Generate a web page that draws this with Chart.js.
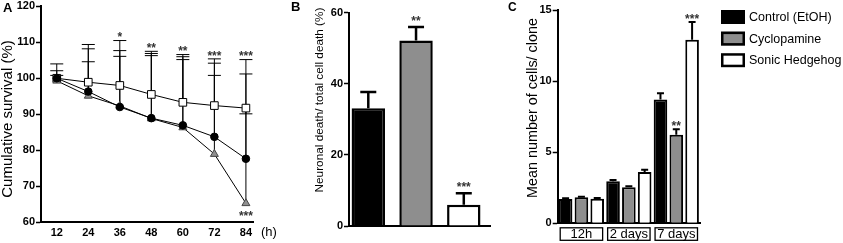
<!DOCTYPE html>
<html>
<head>
<meta charset="utf-8">
<script src="https://cdn.jsdelivr.net/npm/chart.js@4.4.1/dist/chart.umd.min.js"></script>
<style>
  html, body { margin: 0; padding: 0; background: #fff; }
  #wrap { position: relative; width: 843px; height: 243px; overflow: hidden; }
  canvas { position: absolute; top: 0; }
</style>
</head>
<body>
<div id="wrap">
  <canvas id="panelA" width="290" height="243" style="left:0"></canvas>
  <canvas id="panelB" width="205" height="243" style="left:290px"></canvas>
  <canvas id="panelC" width="348" height="243" style="left:495px"></canvas>
</div>
<script>
// ---- panel A: cumulative survival ----
const hours = [12, 24, 36, 48, 60, 72, 84];
const controlSurvival = [100, 96.3, 92, 88.9, 86.9, 83.7, 77.6];
const cyclopamineSurvival = [99.3, 95.1, 92.3, 88.8, 86.3, 78.9, 65.2];
const shhSurvival = [100, 98.9, 98, 95.5, 93.3, 92.4, 91.7];
// upper ends of the error bars
const controlSurvivalErr = [104, 108.2, 107.7, 106.9, 106, 104.2, 101.2];
const cyclopamineSurvivalErr = [102.1, 109.4, 110.5, 107.5, 106.6, 105.4, 105.2];
const shhSurvivalErr = [100.8, 104.6, 106.1, 106.3, 105.2, 100.8, 90.1];
const survivalSigAbove = ['', '', '*', '**', '**', '***', '***'];
const survivalSigBelow = ['', '', '', '', '', '', '***'];

// ---- panel B: neuronal death ----
const treatments = ['Control (EtOH)', 'Cyclopamine', 'Sonic Hedgehog'];
const neuronalDeath = [33.1, 52.2, 6];
const neuronalDeathErr = [37.7, 56, 9.2];
const neuronalDeathSig = ['', '**', '***'];

// ---- panel C: cells per clone ----
const timepoints = ['12h', '2 days', '7 days'];
const controlCells = [1.71, 2.95, 8.7];
const cyclopamineCells = [1.83, 2.53, 6.22];
const shhCells = [1.73, 3.61, 12.9];
const controlCellsErr = [1.76, 3.05, 9.15];
const cyclopamineCellsErr = [1.87, 2.6, 6.62];
const shhCellsErr = [1.78, 3.77, 14.15];
const controlCellsSig = ['', '', ''];
const cyclopamineCellsSig = ['', '', '**'];
const shhCellsSig = ['', '', '***'];

const FILLS = ['#000000', '#8e8e8e', '#ffffff'];
const FONT = '"Liberation Sans", Arial, Helvetica, sans-serif';

Chart.defaults.font.family = FONT;
Chart.defaults.color = '#000';

// panel letter + rotated y title, placed like in the figure
const panelText = (letter, lx, ly, lsize, title, tx, ty, tsize) => ({
  id: 'text' + letter,
  afterDraw(chart) {
    const c = chart.ctx;
    c.save();
    c.fillStyle = '#000';
    c.font = `bold ${lsize}px ${FONT}`;
    c.textBaseline = 'alphabetic';
    c.fillText(letter, lx, ly);
    c.translate(tx, ty);
    c.rotate(-Math.PI / 2);
    c.font = `${tsize}px ${FONT}`;
    c.textAlign = 'center';
    c.textBaseline = 'middle';
    c.fillText(title, 0, 0);
    c.restore();
  }
});

function drawStars(c, text, x, centerY, size) {
  if (!text) return;
  c.save();
  c.font = `bold ${size}px ${FONT}`;
  c.fillStyle = '#333';
  c.textAlign = 'center';
  c.textBaseline = 'alphabetic';
  c.fillText(text, x, centerY + size * 0.6);
  c.restore();
}

const errorBars = {
  id: 'errorBars',
  draw(chart, opts) {
    const c = chart.ctx;
    const y = chart.scales.y;
    c.save();
    c.strokeStyle = '#000';
    c.lineWidth = opts.lineWidth;
    chart.data.datasets.forEach((ds, i) => {
      if (!ds.errTop) return;
      chart.getDatasetMeta(i).data.forEach((el, j) => {
        const top = y.getPixelForValue(ds.errTop[j]);
        const half = opts.capWidth / 2;
        c.beginPath();
        c.moveTo(el.x, el.y);
        c.lineTo(el.x, top);
        c.moveTo(el.x - half, top);
        c.lineTo(el.x + half, top);
        c.stroke();
      });
    });
    c.restore();
  },
  beforeDatasetsDraw(chart, args, opts) { if (opts.under) this.draw(chart, opts); },
  afterDatasetsDraw(chart, args, opts) { if (!opts.under) this.draw(chart, opts); }
};

// per-bar significance marks above the error bars
const barStars = {
  id: 'barStars',
  afterDatasetsDraw(chart, args, opts) {
    const y = chart.scales.y;
    chart.data.datasets.forEach((ds, i) => {
      if (!ds.sig) return;
      chart.getDatasetMeta(i).data.forEach((el, j) => {
        drawStars(chart.ctx, ds.sig[j], el.x, y.getPixelForValue(ds.errTop[j]) - opts.gap, opts.size);
      });
    });
  }
};

const yAxis = (min, max, step, width, top) => ({
  min, max,
  afterFit: s => { s.width = width; s.paddingTop = top; s.paddingBottom = 0; },
  ticks: { stepSize: step, color: '#000', padding: 1, font: { size: 11, weight: 'bold' } },
  grid: { drawOnChartArea: false, drawTicks: true, tickLength: 5, tickWidth: 1.5, tickColor: '#000' },
  border: { color: '#000', width: 2 }
});

// ================= A =================
const survivalStars = {
  id: 'survivalStars',
  afterDatasetsDraw(chart) {
    const x = chart.scales.x, y = chart.scales.y;
    const sets = chart.data.datasets;
    hours.forEach((h, j) => {
      const cap = Math.max(...sets.map(ds => ds.errTop[j]));
      const low = Math.min(...sets.map(ds => ds.data[j].y));
      drawStars(chart.ctx, survivalSigAbove[j], x.getPixelForValue(h), y.getPixelForValue(cap) - 6.5, 12);
      drawStars(chart.ctx, survivalSigBelow[j], x.getPixelForValue(h), y.getPixelForValue(low) + 9, 12);
    });
    // unit label after the last hour tick
    const c = chart.ctx;
    c.save();
    c.font = `13px ${FONT}`;
    c.fillStyle = '#000';
    c.textBaseline = 'middle';
    c.fillText('(h)', chart.chartArea.right + 8, chart.chartArea.bottom + 10);
    c.restore();
  }
};

const toPoints = vals => hours.map((h, i) => ({ x: h, y: vals[i] }));

new Chart(document.getElementById('panelA'), {
  type: 'line',
  data: {
    datasets: [
      {
        label: 'Control (EtOH)',
        data: toPoints(controlSurvival),
        errTop: controlSurvivalErr,
        borderColor: '#000', borderWidth: 1,
        pointStyle: 'circle', pointRadius: 3.8,
        pointBackgroundColor: '#000', pointBorderColor: '#000'
      },
      {
        label: 'Cyclopamine',
        data: toPoints(cyclopamineSurvival),
        errTop: cyclopamineSurvivalErr,
        borderColor: '#000', borderWidth: 1,
        pointStyle: 'triangle', pointRadius: 4.6,
        pointBackgroundColor: '#8f8f8f', pointBorderColor: '#444'
      },
      {
        label: 'Sonic Hedgehog',
        data: toPoints(shhSurvival),
        errTop: shhSurvivalErr,
        borderColor: '#000', borderWidth: 1,
        pointStyle: 'rect', pointRadius: 5.4,
        pointBackgroundColor: '#fff', pointBorderColor: '#000', pointBorderWidth: 1
      }
    ]
  },
  options: {
    responsive: false,
    animation: false,
    devicePixelRatio: 1,
    layout: { padding: { left: 0, top: 0, right: 37, bottom: 0 } },
    plugins: {
      legend: { display: false },
      tooltip: { enabled: false },
      errorBars: { under: true, lineWidth: 1, capWidth: 13 }
    },
    scales: {
      x: {
        type: 'linear', min: 6, max: 86.7,
        afterBuildTicks: s => { s.ticks = hours.map(v => ({ value: v })); },
        afterFit: s => { s.height = 21; s.paddingLeft = 0; s.paddingRight = 0; },
        ticks: { color: '#000', padding: 4, maxRotation: 0, font: { size: 11, weight: 'bold' } },
        grid: { drawOnChartArea: false, drawTicks: false },
        border: { color: '#000', width: 2 }
      },
      y: yAxis(60, 120, 10, 41, 6)
    }
  },
  plugins: [errorBars, survivalStars,
    panelText('A', 3, 12, 13, 'Cumulative survival (%)', 8, 119, 15)]
});

// ================= B =================
new Chart(document.getElementById('panelB'), {
  type: 'bar',
  data: {
    datasets: [{
      label: 'Neuronal death',
      data: neuronalDeath.map((v, i) => ({ x: i, y: v })),
      errTop: neuronalDeathErr,
      sig: neuronalDeathSig,
      backgroundColor: FILLS,
      borderColor: '#000',
      borderWidth: 2.5,
      barPercentage: 0.7,
      categoryPercentage: 1
    }]
  },
  options: {
    responsive: false,
    animation: false,
    devicePixelRatio: 1,
    layout: { padding: { left: 0, top: 0, right: 5, bottom: 0 } },
    plugins: {
      legend: { display: false },
      tooltip: { enabled: false },
      errorBars: { under: false, lineWidth: 2.5, capWidth: 16 },
      barStars: { gap: 9.5, size: 12 }
    },
    scales: {
      x: {
        type: 'linear', min: -0.404, max: 2.549, offset: false,
        afterFit: s => { s.height = 17; s.paddingLeft = 0; s.paddingRight = 0; },
        ticks: { display: false },
        grid: { drawOnChartArea: false, drawTicks: false },
        border: { color: '#000', width: 2 }
      },
      y: yAxis(0, 60, 20, 59, 12.7)
    }
  },
  plugins: [errorBars, barStars,
    panelText('B', 1, 11, 13, 'Neuronal death/ total cell death (%)', 30, 100, 11.8)]
});

// ================= C =================
const clonePlugin = {
  id: 'cloneExtras',
  afterDraw(chart) {
    const c = chart.ctx;
    const x = chart.scales.x;
    const area = chart.chartArea;
    const step = (area.right - area.left) / timepoints.length;
    c.save();
    // boxes around the time point labels
    c.strokeStyle = '#000';
    c.lineWidth = 1.3;
    timepoints.forEach((t, i) => {
      const mid = x.getPixelForTick(i);
      c.strokeRect(mid - step / 2 + 2.5, area.bottom + 4.5, step - 5, 12.5);
    });
    // legend
    c.font = `12.5px ${FONT}`;
    c.textBaseline = 'middle';
    chart.data.datasets.forEach((ds, i) => {
      const top = 10 + i * 21.6;
      c.fillStyle = ds.backgroundColor;
      c.fillRect(226, top, 24, 14);
      c.lineWidth = 2.5;
      c.strokeStyle = '#000';
      c.strokeRect(227.25, top + 1.25, 21.5, 11.5);
      c.fillStyle = '#000';
      c.fillText(ds.label, 254, top + 7.5);
    });
    c.restore();
  }
};

const cloneSet = (i, vals, err, sig) => ({
  label: treatments[i],
  data: vals,
  errTop: err,
  sig,
  backgroundColor: FILLS[i],
  borderColor: '#000',
  borderWidth: 2,
  barPercentage: 0.86,
  categoryPercentage: 1
});

new Chart(document.getElementById('panelC'), {
  type: 'bar',
  data: {
    labels: timepoints,
    datasets: [
      cloneSet(0, controlCells, controlCellsErr, controlCellsSig),
      cloneSet(1, cyclopamineCells, cyclopamineCellsErr, cyclopamineCellsSig),
      cloneSet(2, shhCells, shhCellsErr, shhCellsSig)
    ]
  },
  options: {
    responsive: false,
    animation: false,
    devicePixelRatio: 1,
    layout: { padding: { left: 0, top: 0, right: 143, bottom: 0 } },
    plugins: {
      legend: { display: false },
      tooltip: { enabled: false },
      errorBars: { under: false, lineWidth: 2, capWidth: 7 },
      barStars: { gap: 6.5, size: 12 }
    },
    scales: {
      x: {
        afterFit: s => { s.height = 19.7; s.paddingLeft = 0; s.paddingRight = 0; },
        ticks: { color: '#000', padding: 3, maxRotation: 0, font: { size: 13 } },
        grid: { drawOnChartArea: false, drawTicks: false },
        border: { color: '#000', width: 2 }
      },
      y: yAxis(0, 15, 5, 62.7, 10)
    }
  },
  plugins: [errorBars, barStars, clonePlugin,
    panelText('C', 13, 10.5, 12, 'Mean number of cells/ clone', 38, 108, 14.4)]
});
</script>
</body>
</html>
